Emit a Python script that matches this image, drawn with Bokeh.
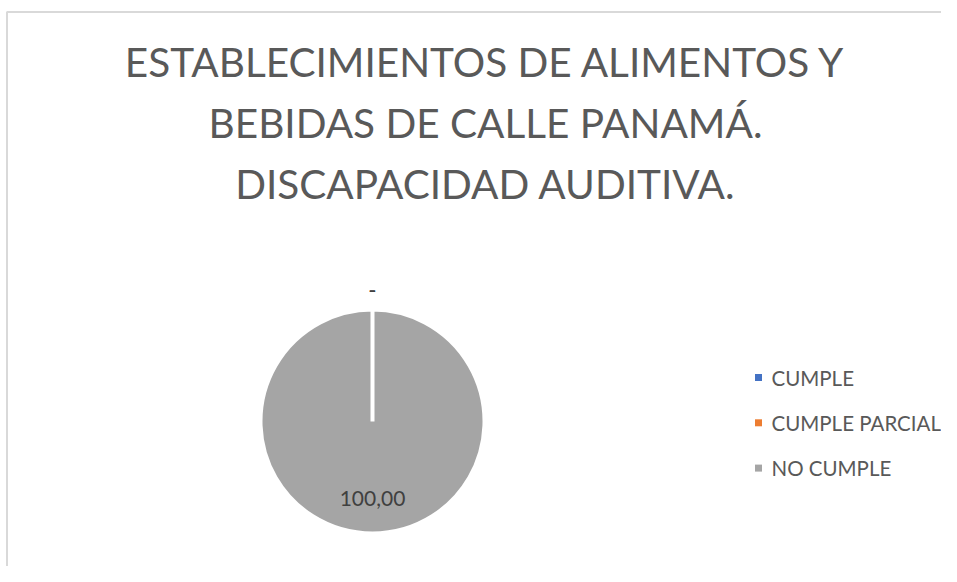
import math
from bokeh.plotting import figure
from bokeh.models import Range1d, ColumnDataSource, CDSView, BooleanFilter
from bokeh.core.properties import value
from bokeh.embed import file_html
from bokeh.resources import INLINE

# ---- data ----
title_lines = [
    "ESTABLECIMIENTOS DE ALIMENTOS Y",
    "BEBIDAS DE CALLE PANAMÁ.",
    "DISCAPACIDAD AUDITIVA.",
]
categories = ["CUMPLE", "CUMPLE PARCIAL", "NO CUMPLE"]
values = [0.0, 0.0, 100.0]
colors = ["#4472C4", "#ED7D31", "#A5A5A5"]

# ---- layout ----
W, H = 941, 566
FONT = "Lato"
TEXT_COLOR = "#595959"


def sx(x):  # screen x -> data x
    return x


def sy(y):  # screen y -> data y
    return H - y


p = figure(width=W, height=H, output_backend="svg", toolbar_location=None,
           x_range=Range1d(0, W), y_range=Range1d(0, H), min_border=0)
p.axis.visible = False
p.grid.visible = False
p.outline_line_color = None
p.background_fill_color = "white"
p.border_fill_color = "white"

# chart area border (top and left visible)
p.line(x=[sx(6.5), sx(6.5), W], y=[0, sy(11.5), sy(11.5)], line_color="#D9D9D9", line_width=2)

# title
title_src = ColumnDataSource(dict(
    x=[sx(485)] * len(title_lines),
    y=[sy(61), sy(122), sy(182.5)],
    t=title_lines,
))
p.text(x="x", y="y", text="t", source=title_src, text_font=value(FONT),
       text_font_size="40.5px", text_color=TEXT_COLOR, text_align="center",
       text_baseline="middle")

# pie
cx, cy, r = sx(372), sy(421), 112
total = sum(values)
starts, ends, cum = [], [], 0.0
for v in values:
    a0 = math.pi / 2 - 2 * math.pi * cum / total
    cum += v
    span = min(2 * math.pi * v / total, 2 * math.pi - 1e-4)
    starts.append(a0)
    ends.append(a0 - span)

pie_src = ColumnDataSource(dict(start=starts, end=ends, color=colors, cat=categories, val=values))
view = CDSView(filter=BooleanFilter([v > 0 for v in values]))
p.wedge(x=cx, y=cy, radius=r, start_angle="start", end_angle="end", direction="clock",
        fill_color="color", line_color="white", line_width=4, source=pie_src, view=view)

# data labels
lx, ly, lt = [], [], []
for v, a0, a1 in zip(values, starts, ends):
    mid = (a0 + a1) / 2
    if v == 0:
        rr = r + 19
        txt = "-"
    else:
        rr = r * 0.69
        txt = f"{v:.2f}".replace(".", ",")
    lx.append(cx + rr * math.cos(mid))
    ly.append(cy + rr * math.sin(mid))
    lt.append(txt)
p.text(x=lx, y=ly, text=lt, text_font=value(FONT), text_font_size="21px",
       text_color="#404040", text_align="center", text_baseline="middle")

# legend
leg_mid = [sy(377 + 45.3 * i) for i in range(len(categories))]
p.scatter(x=[sx(758)] * len(categories), y=leg_mid, marker="square",
          size=7, fill_color=colors, line_color=None)
p.text(x=[sx(771)] * len(categories), y=leg_mid, text=categories, text_font=value(FONT),
       text_font_size="20.5px", text_color=TEXT_COLOR, text_align="left",
       text_baseline="middle")

open("out.html", "w").write(file_html(p, INLINE))
